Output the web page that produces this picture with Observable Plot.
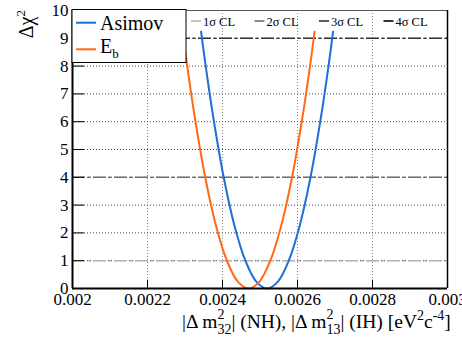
<!DOCTYPE html>
<html><head><meta charset="utf-8">
<script src="https://cdn.jsdelivr.net/npm/d3@7"></script>
<script src="https://cdn.jsdelivr.net/npm/@observablehq/plot@0.6"></script>
<style>body{margin:0;background:#fff}#chart svg{overflow:visible}</style>
</head><body><div id="chart"></div>
<script>
// ---- data ----
const seriesNames = ["Asimov", "E"];
const seriesSubs = ["", "b"];
const seriesColors = ["#1f6fd5", "#ff6a16"];
const chi2 = [9.24, 8, 6.25, 4, 2.25, 1, 0.25, 0, 0.25, 1, 2.25, 4, 6.25, 8, 9.24];
const asimovDm2 = [0.0023429, 0.0023552, 0.0023743, 0.0024032, 0.0024321, 0.0024611, 0.0024900, 0.0025189,
                   0.0025479, 0.0025768, 0.0026057, 0.0026347, 0.0026636, 0.0026827, 0.0026949];
const ebDm2 = [0.0022936, 0.0023059, 0.0023250, 0.0023539, 0.0023828, 0.0024118, 0.0024407, 0.0024696,
               0.0024986, 0.0025275, 0.0025564, 0.0025854, 0.0026143, 0.0026334, 0.0026456];
const xTicks = [0.002, 0.0022, 0.0024, 0.0026, 0.0028, 0.003];
const xTickLabels = ["0.002", "0.0022", "0.0024", "0.0026", "0.0028", "0.003"];
const yTicks = [0, 1, 2, 3, 4, 5, 6, 7, 8, 9, 10];
const yTickLabels = ["0", "1", "2", "3", "4", "5", "6", "7", "8", "9", "10"];
const clLevels = [1, 4, 9, 16];
const clLabels = ["1σ CL", "2σ CL", "3σ CL", "4σ CL"];
const clColors = ["#b4b4b4", "#6e6e6e", "#333333", "#000000"];

// ---- build tables ----
const curves = [];
[asimovDm2, ebDm2].forEach((xs, s) => xs.forEach((x, i) => curves.push({series: s, x, y: chi2[i]})));
const clRows = clLevels.map((v, i) => ({v, color: clColors[i]})).filter(d => d.v <= 10);
const gridY = yTicks.filter(v => v > 0 && v < 10);
const gridX = xTicks.slice(1, -1);

const FONT = "'Liberation Serif', 'Times New Roman', serif";
const DASHDOT = "13,3,2,3";

const plot = Plot.plot({
  width: 462, height: 342,
  marginLeft: 72, marginRight: 15, marginTop: 10, marginBottom: 54,
  style: {fontFamily: FONT, fontSize: "17px", background: "#fff", color: "#000"},
  x: {domain: [0.002, 0.003], axis: null},
  y: {domain: [0, 10], axis: null},
  marks: [
    Plot.ruleX(gridX, {stroke: "#8a8a8a", strokeDasharray: "1,2"}),
    Plot.ruleY(gridY, {stroke: "#444", strokeDasharray: "1,2"}),
    Plot.ruleY(clRows, {y: "v", stroke: "color", strokeWidth: 1.6, strokeDasharray: DASHDOT}),
    Plot.line(curves, {x: "x", y: "y", z: "series", stroke: d => seriesColors[d.series], strokeWidth: 2, curve: "catmull-rom"}),
    Plot.ruleX(xTicks, {y1: 0, y2: 0.3, stroke: "#000", strokeWidth: 1}),
    Plot.ruleY(yTicks, {x1: 0.002, x2: 0.002032, stroke: "#000", strokeWidth: 1}),
    Plot.ruleY([10], {stroke: "#555", strokeWidth: 1}),
    Plot.ruleX([0.003], {stroke: "#000", strokeWidth: 1.5}),
    Plot.ruleX([0.002], {stroke: "#000", strokeWidth: 2}),
    Plot.ruleY([0], {stroke: "#000", strokeWidth: 2}),
    Plot.axisX(xTicks, {anchor: "bottom", tickSize: 0, tickPadding: 4, fontSize: 17, label: null,
      tickFormat: d => xTickLabels[xTicks.indexOf(d)]}),
    Plot.axisY(yTicks, {anchor: "left", tickSize: 0, tickPadding: 4, fontSize: 17, label: null,
      tickFormat: d => yTickLabels[yTicks.indexOf(d)]})
  ]
});
document.getElementById("chart").appendChild(plot);

const svg = d3.select(plot);

// legend 1 (series)
const lg1 = svg.append("g").attr("text-anchor", "start");
lg1.append("rect").attr("x", 72).attr("y", 9.5).attr("width", 114).attr("height", 53)
  .attr("fill", "#fff").attr("stroke", "#000").attr("stroke-width", 1);
seriesNames.forEach((name, i) => {
  const cy = i === 0 ? 22.7 : 49.3;
  lg1.append("line").attr("x1", 76).attr("x2", 96).attr("y1", cy).attr("y2", cy)
    .attr("stroke", seriesColors[i]).attr("stroke-width", 2);
  const t = lg1.append("text").attr("x", 100).attr("y", i === 0 ? 29.5 : 53).attr("text-anchor", "start")
    .attr("font-family", FONT).attr("font-size", 20).attr("fill", "#000").text(name);
  if (seriesSubs[i]) t.append("tspan").attr("dy", 5).attr("font-size", 13).text(seriesSubs[i]);
});

// legend 2 (CL lines)
const lg2 = svg.append("g").attr("text-anchor", "start");
const lx = [191, 254.5, 319, 383.5];
clLabels.forEach((lab, i) => {
  lg2.append("line").attr("x1", lx[i]).attr("x2", lx[i] + 10).attr("y1", 21).attr("y2", 21)
    .attr("stroke", clColors[i]).attr("stroke-width", 1.6);
  lg2.append("text").attr("x", lx[i] + 12).attr("y", 25.5).attr("text-anchor", "start")
    .attr("font-family", FONT).attr("font-size", 12.5).attr("fill", "#000").text(lab);
});

// y axis title
const yt = svg.append("text").attr("transform", "translate(33,10) rotate(-90)")
  .attr("text-anchor", "end").attr("font-family", FONT).attr("font-size", 20).attr("fill", "#000");
yt.append("tspan").text("Δχ");
yt.append("tspan").attr("dy", -8).attr("font-size", 13).text("2");

// x axis title
const xt = svg.append("text").attr("x", 182).attr("y", 328).attr("text-anchor", "start")
  .attr("font-family", FONT).attr("font-size", 19.5).attr("fill", "#000");
xt.append("tspan").text("|Δ m");
xt.append("tspan").attr("dy", -9).attr("font-size", 14).text("2");
xt.append("tspan").attr("dx", -7).attr("dy", 15).attr("font-size", 14).text("32");
xt.append("tspan").attr("dy", -6).text("| (NH), |Δ m");
xt.append("tspan").attr("dy", -9).attr("font-size", 14).text("2");
xt.append("tspan").attr("dx", -7).attr("dy", 15).attr("font-size", 14).text("13");
xt.append("tspan").attr("dy", -6).text("| (IH) [eV");
xt.append("tspan").attr("dy", -8).attr("font-size", 14).text("2");
xt.append("tspan").attr("dy", 8).text("c");
xt.append("tspan").attr("dy", -8).attr("font-size", 14).text("-4");
xt.append("tspan").attr("dy", 8).text("]");
</script>
</body></html>
